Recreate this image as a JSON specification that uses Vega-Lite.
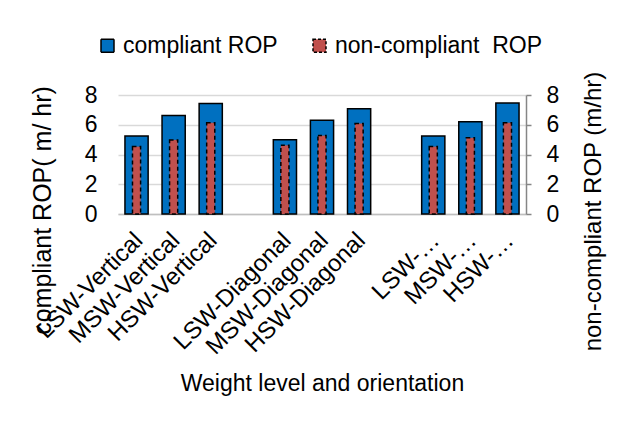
{
  "$schema": "https://vega.github.io/schema/vega-lite/v6.json",
  "autosize": {"type": "none"},
  "width": 408,
  "height": 119,
  "padding": {"left": 118, "top": 95, "right": 102, "bottom": 211},
  "background": "white",
  "config": {
    "font": "Liberation Sans",
    "view": {"stroke": null},
    "axis": {"labelFont": "Liberation Sans", "titleFont": "Liberation Sans", "labelColor": "#000000", "titleColor": "#000000", "titleFontWeight": "normal", "labelFontSize": 23, "titleFontSize": 23}
  },
  "data": {
    "values": [
      {"category": "LSW-Vertical", "series": "compliant ROP", "rop": 5.25},
      {"category": "MSW-Vertical", "series": "compliant ROP", "rop": 6.62},
      {"category": "HSW-Vertical", "series": "compliant ROP", "rop": 7.43},
      {"category": "LSW-Diagonal", "series": "compliant ROP", "rop": 5.0},
      {"category": "MSW-Diagonal", "series": "compliant ROP", "rop": 6.31},
      {"category": "HSW-Diagonal", "series": "compliant ROP", "rop": 7.07},
      {"category": "LSW-Horizontal", "series": "compliant ROP", "rop": 5.25},
      {"category": "MSW-Horizontal", "series": "compliant ROP", "rop": 6.2},
      {"category": "HSW-Horizontal", "series": "compliant ROP", "rop": 7.47},
      {"category": "LSW-Vertical", "series": "non-compliant  ROP", "rop": 4.53},
      {"category": "MSW-Vertical", "series": "non-compliant  ROP", "rop": 4.98},
      {"category": "HSW-Vertical", "series": "non-compliant  ROP", "rop": 6.13},
      {"category": "LSW-Diagonal", "series": "non-compliant  ROP", "rop": 4.62},
      {"category": "MSW-Diagonal", "series": "non-compliant  ROP", "rop": 5.27},
      {"category": "HSW-Diagonal", "series": "non-compliant  ROP", "rop": 6.08},
      {"category": "LSW-Horizontal", "series": "non-compliant  ROP", "rop": 4.53},
      {"category": "MSW-Horizontal", "series": "non-compliant  ROP", "rop": 5.12},
      {"category": "HSW-Horizontal", "series": "non-compliant  ROP", "rop": 6.13}
    ]
  },
  "encoding": {
    "x": {
      "field": "category",
      "type": "nominal",
      "scale": {
        "domain": ["LSW-Vertical", "MSW-Vertical", "HSW-Vertical", "gap1", "LSW-Diagonal", "MSW-Diagonal", "HSW-Diagonal", "gap2", "LSW-Horizontal", "MSW-Horizontal", "HSW-Horizontal"],
        "paddingInner": 0.375,
        "paddingOuter": 0.1875
      },
      "axis": {
        "title": "Weight level and orientation",
        "titleY": 176,
        "titleBaseline": "alphabetic",
        "labelAngle": -45,
        "labelPadding": 14,
        "labelOffset": -6,
        "labelFontSize": 24,
        "labelLimit": 300,
        "labelExpr": "indexof(datum.value, 'gap') == 0 ? '' : (indexof(datum.value, 'Horizontal') >= 0 ? replace(datum.value, 'Horizontal', '…') : datum.value)",
        "ticks": false,
        "domainColor": "#BFBFBF",
        "domainWidth": 1.5,
        "grid": false
      }
    },
    "color": {
      "field": "series",
      "type": "nominal",
      "scale": {"domain": ["compliant ROP", "non-compliant  ROP"], "range": ["#0070C0", "#C0504D"]},
      "legend": {
        "orient": "none",
        "direction": "horizontal",
        "legendX": -22,
        "legendY": -61,
        "title": null,
        "padding": 0,
        "labelFontSize": 23,
        "labelFont": "Liberation Sans",
        "labelColor": "#000000",
        "labelLimit": 400,
        "labelOffset": 4,
        "labelExpr": "replace(datum.label, '  ', ' \u00a0')",
        "columnPadding": 30,
        "symbolType": "square",
        "symbolSize": 169,
        "symbolStrokeColor": "#000000",
        "symbolStrokeWidth": 1.5,
        "symbolOpacity": 1,
        "encode": {"symbols": {"update": {"strokeDash": {"signal": "datum.value === 'non-compliant  ROP' ? [3, 2] : [1, 0]"}}}}
      }
    }
  },
  "layer": [
    {
      "transform": [{"filter": "datum.series === 'compliant ROP'"}],
      "mark": {"type": "bar", "stroke": "#000000", "strokeWidth": 1.5, "opacity": 1},
      "encoding": {
        "y": {
          "field": "rop",
          "type": "quantitative",
          "scale": {"domain": [0, 8]},
          "axis": {
            "title": "compliant ROP( m/ hr)",
            "orient": "left",
            "values": [0, 2, 4, 6, 8],
            "domain": false,
            "ticks": false,
            "tickSize": 0,
            "labelPadding": 21,
            "gridColor": "#D9D9D9",
            "gridWidth": 1.5,
            "titleFontSize": 25,
            "titleAngle": -90,
            "titleX": -68,
            "titleY": 115,
            "titleAlign": "center",
            "titleBaseline": "alphabetic"
          }
        }
      }
    },
    {
      "transform": [{"filter": "datum.series === 'non-compliant  ROP'"}],
      "mark": {"type": "bar", "stroke": "#000000", "strokeWidth": 1.5, "strokeDash": [4, 3], "width": {"band": 0.35}, "opacity": 1},
      "encoding": {
        "y": {
          "field": "rop",
          "type": "quantitative",
          "scale": {"domain": [0, 8]},
          "axis": {
            "title": "non-compliant  ROP (m/hr)",
            "orient": "right",
            "values": [0, 2, 4, 6, 8],
            "grid": false,
            "domainColor": "#868686",
            "domainWidth": 1.5,
            "tickColor": "#868686",
            "tickWidth": 1.5,
            "tickSize": 5,
            "labelPadding": 15,
            "titleFontSize": 24,
            "titleAngle": 270,
            "titleX": 74,
            "titleY": 116,
            "titleAlign": "center",
            "titleBaseline": "alphabetic"
          }
        }
      }
    }
  ],
  "resolve": {"scale": {"y": "independent"}}
}
